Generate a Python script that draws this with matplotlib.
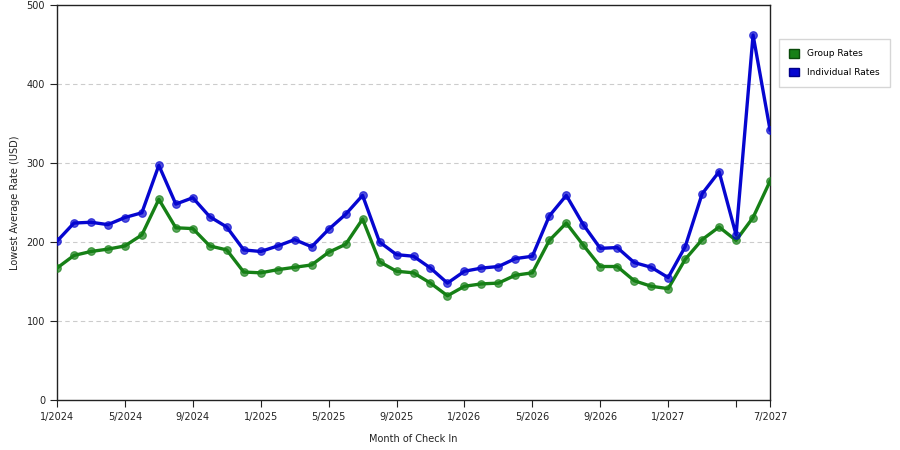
import matplotlib
matplotlib.use("Agg")
import matplotlib.pyplot as plt
from matplotlib.patches import Patch

months = ["1/2024","2/2024","3/2024","4/2024","5/2024","6/2024","7/2024","8/2024","9/2024","10/2024","11/2024","12/2024",
          "1/2025","2/2025","3/2025","4/2025","5/2025","6/2025","7/2025","8/2025","9/2025","10/2025","11/2025","12/2025",
          "1/2026","2/2026","3/2026","4/2026","5/2026","6/2026","7/2026","8/2026","9/2026","10/2026","11/2026","12/2026",
          "1/2027","2/2027","3/2027","4/2027","5/2027","6/2027","7/2027"]
group_rates = [167, 183, 188, 191, 195, 209, 254, 218, 217, 195, 190, 162,
               161, 165, 168, 171, 187, 197, 229, 175, 163, 161, 148, 132,
               144, 147, 148, 158, 161, 202, 224, 196, 169, 169, 151, 144,
               141, 178, 203, 219, 202, 231, 277]
individual_rates = [201, 224, 225, 222, 231, 237, 297, 248, 256, 232, 219, 190,
                    188, 195, 203, 194, 216, 235, 259, 200, 184, 182, 167, 148,
                    163, 167, 169, 179, 182, 233, 259, 222, 192, 193, 174, 168,
                    155, 194, 261, 289, 209, 462, 342]
tick_labels = ["1/2024","5/2024","9/2024","1/2025","5/2025","9/2025","1/2026","5/2026","9/2026","1/2027","","7/2027"]
tick_idx = [0, 4, 8, 12, 16, 20, 24, 28, 32, 36, 40, 42]

green = "#168016"
blue = "#0606d0"

fig = plt.figure(figsize=(9, 4.5), dpi=100)
ax = fig.add_axes([0.0633, 0.111, 0.7923, 0.878])
x = list(range(len(months)))
for vals, col in [(group_rates, green), (individual_rates, blue)]:
    ax.plot(x, vals, color=col, lw=2.4, solid_joinstyle="round", zorder=3)
    ax.plot(x, vals, ls="none", marker="o", ms=5.5, mfc=col, mec=col, mew=0.8, alpha=0.7, zorder=4)

ax.set_xlim(0, 42)
ax.set_ylim(0, 500)
ax.set_yticks([0, 100, 200, 300, 400, 500])
ax.set_xticks(tick_idx)
ax.set_xticklabels(tick_labels)
ax.tick_params(labelsize=7, colors="#222222", length=5, width=0.8, direction="out")
for t in ax.get_yticks():
    if 0 < t < 500:
        ax.axhline(t, color="#cccccc", lw=0.8, ls=(0, (4, 3)), zorder=1)
for s in ax.spines.values():
    s.set_color("#222222")
    s.set_linewidth(1)
ax.set_xlabel("Month of Check In", fontsize=7, color="#222222")
ax.set_ylabel("Lowest Average Rate (USD)", fontsize=7, color="#222222")
ax.xaxis.set_label_coords(0.5, -0.085)
ax.yaxis.set_label_coords(-0.052, 0.5)

handles = [Patch(facecolor=green, edgecolor="#0a4a0a", label="Group Rates"),
           Patch(facecolor=blue, edgecolor="#00008a", label="Individual Rates")]
leg = fig.legend(handles=handles, loc="upper left", bbox_to_anchor=(0.8656, 0.9133),
                 borderaxespad=0, fontsize=6.5, frameon=True, fancybox=False, edgecolor="#cccccc",
                 handlelength=1.1, handleheight=1.1, borderpad=1.1, labelspacing=1.05, handletextpad=0.9)
fig.savefig("out.png", dpi=100)
